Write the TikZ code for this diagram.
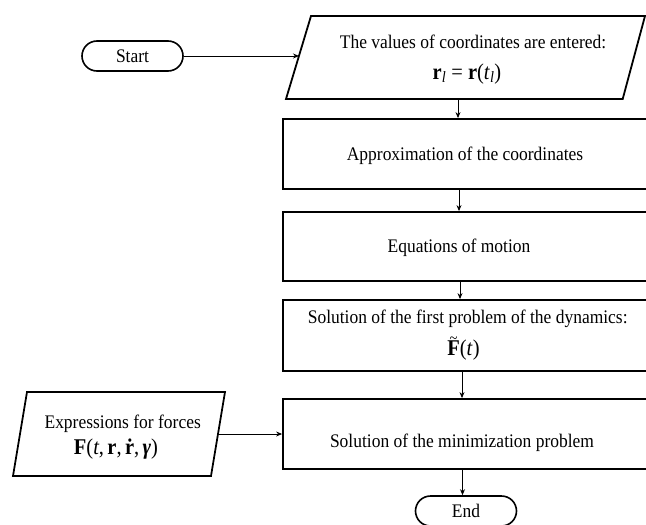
\documentclass[tikz,border=0pt]{standalone}
\usepackage{fontspec}
\setmainfont{Liberation Serif}
\usetikzlibrary{shapes.misc,arrows.meta,calc}
\newcommand{\sqz}[1]{\scalebox{0.91}[1]{#1}}
\newcommand{\tildeF}{\ooalign{\textbf{F}\cr\hidewidth\raisebox{0.5em}{\fontsize{16}{16}\selectfont\~{}}\hidewidth\cr}}
\begin{document}
\begin{tikzpicture}[x=1pt,y=-1pt,
  txt/.style={font=\fontsize{19.2}{22}\selectfont, inner sep=0pt},
  mth/.style={font=\fontsize{22.5}{26}\selectfont, inner sep=0pt},
  procbox/.style={draw, line width=1.8pt, rectangle, minimum width=367pt, inner sep=0pt},
  term/.style={draw, line width=1.6pt, rounded rectangle, minimum width=101pt, minimum height=30pt, inner sep=0pt, font=\fontsize{19.2}{22}\selectfont},
  para/.style={draw, line width=1.8pt, line join=miter},
  arr/.style={line width=0.9pt, -{Stealth[length=6pt,width=5pt]}}]
\useasboundingbox (0,0) rectangle (646,525);
\clip (0,0) rectangle (646,525);

% terminals
\node[term] (start) at (132.5,56) {\sqz{Start}};
\node[term] (end) at (466,511) {\sqz{End}};

% input parallelogram (top)
\path[para] (311,16) -- (645,16) -- (622.7,99) -- (286,99) -- cycle;
\coordinate (in1w) at (299,56);
\coordinate (in1s) at (458,99);
\node[txt, anchor=base] (in1a) at (473,48) {\sqz{The values of coordinates are entered:}};
\node[mth, anchor=base] (in1b) at (467,79) {\sqz{\textbf{r}\textsubscript{\textit{l}} = \textbf{r}(\textit{t}\textsubscript{\textit{l}})}};

% input parallelogram (forces)
\path[para] (27,392) -- (225,392) -- (211,476) -- (13,476) -- cycle;
\coordinate (in2e) at (218,434);
\node[txt, anchor=base] (in2a) at (122.7,428) {\sqz{Expressions for forces}};
\node[mth, anchor=base] (in2b) at (116,454) {\sqz{\textbf{F}(\textit{t},\,\textbf{r},\,\textbf{\.{r}},\,\textbf{\textit{γ}})}};

% process boxes
\node[procbox, minimum height=70pt] (b1) at (466.5,154) {};
\node[txt, anchor=base] (t1) at (465,160) {\sqz{Approximation of the coordinates}};
\node[procbox, minimum height=69pt] (b2) at (466.5,246.5) {};
\node[txt, anchor=base] (t2) at (459,252) {\sqz{Equations of motion}};
\node[procbox, minimum height=71pt] (b3) at (466.5,335.5) {};
\node[txt, anchor=base] (t3a) at (467.7,323) {\sqz{Solution of the first problem of the dynamics:}};
\node[mth, anchor=base] (t3b) at (463.5,355) {\sqz{\tildeF(\textit{t})}};
\node[procbox, minimum height=70pt] (b4) at (466.5,434) {};
\node[txt, anchor=base] (t4) at (462,447) {\sqz{Solution of the minimization problem}};

% connectors
\draw[arr] (start.east) -- (in1w);
\draw[arr] (in1s) -- (in1s |- b1.north);
\coordinate (c1) at ($(b1.south)+(-7.5,0)$);
\draw[arr] (c1) -- (c1 |- b2.north);
\coordinate (c2) at ($(b2.south)+(-6.5,0)$);
\draw[arr] (c2) -- (c2 |- b3.north);
\coordinate (c3) at ($(b3.south)+(-4.5,0)$);
\draw[arr] (c3) -- (c3 |- b4.north);
\coordinate (c4) at ($(b4.south)+(-4,0)$);
\draw[arr] (c4) -- (c4 |- end.north);
\draw[arr] (in2e) -- (in2e -| b4.west);
\end{tikzpicture}
\end{document}
